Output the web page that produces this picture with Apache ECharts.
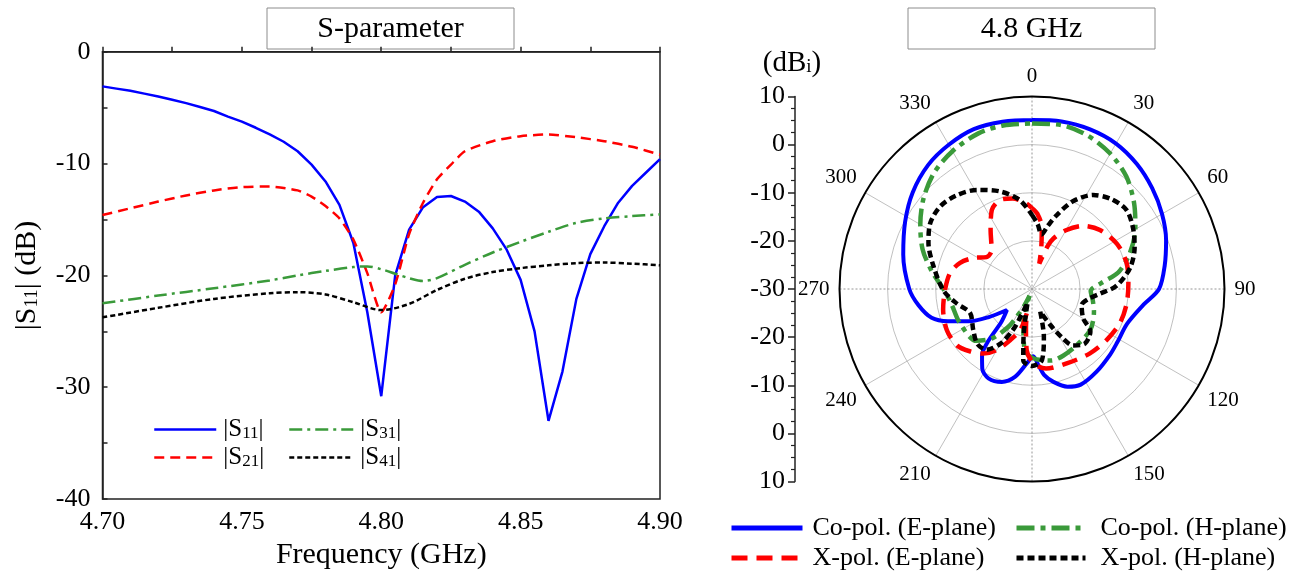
<!DOCTYPE html>
<html>
<head>
<meta charset="utf-8">
<script src="https://cdn.jsdelivr.net/npm/echarts@6/dist/echarts.min.js"></script>
<style>
html,body{margin:0;padding:0;background:#fff;}
#c{width:1306px;height:575px;}
</style>
</head>
<body>
<div id="c"></div>
<script>
// ---------- S-parameter data ----------
const freqS11 = [4.700,4.705,4.710,4.715,4.720,4.725,4.730,4.735,4.740,4.745,4.750,4.755,4.760,4.765,4.770,4.775,4.780,4.785,4.790,4.795,4.800,4.805,4.810,4.815,4.820,4.825,4.830,4.835,4.840,4.845,4.850,4.855,4.860,4.865,4.870,4.875,4.880,4.885,4.890,4.895,4.900];
const s11 = [-3.1,-3.3,-3.5,-3.75,-4.0,-4.3,-4.6,-4.95,-5.3,-5.8,-6.25,-6.8,-7.4,-8.05,-8.9,-10.1,-11.6,-13.7,-17.1,-23.3,-30.8,-20.0,-15.9,-13.9,-13.0,-12.9,-13.4,-14.3,-15.8,-17.7,-20.4,-25.0,-33.0,-28.6,-22.1,-18.1,-15.6,-13.5,-12.0,-10.8,-9.6];
const freqS21 = [4.70,4.71,4.72,4.73,4.74,4.75,4.76,4.77,4.775,4.78,4.785,4.79,4.795,4.80,4.805,4.81,4.815,4.82,4.825,4.83,4.84,4.85,4.86,4.87,4.88,4.89,4.90];
const s21 = [-14.6,-14.0,-13.4,-12.85,-12.4,-12.1,-12.05,-12.4,-12.95,-13.8,-14.9,-16.8,-19.8,-23.3,-20.8,-16.3,-13.5,-11.4,-10.1,-8.9,-8.0,-7.55,-7.4,-7.65,-8.0,-8.5,-9.2];
const freqS31 = [4.70,4.72,4.74,4.76,4.77,4.78,4.79,4.795,4.80,4.805,4.81,4.815,4.82,4.83,4.84,4.85,4.86,4.87,4.88,4.89,4.90];
const s31 = [-22.5,-21.8,-21.15,-20.45,-20.0,-19.6,-19.25,-19.2,-19.45,-19.85,-20.25,-20.5,-20.25,-19.05,-17.95,-17.0,-16.1,-15.3,-14.9,-14.7,-14.55];
const freqS41 = [4.70,4.72,4.74,4.76,4.77,4.78,4.79,4.80,4.81,4.82,4.83,4.84,4.85,4.86,4.87,4.88,4.89,4.90];
const s41 = [-23.75,-22.9,-22.1,-21.6,-21.5,-21.7,-22.4,-23.1,-22.55,-21.3,-20.3,-19.7,-19.35,-19.1,-18.9,-18.85,-18.95,-19.1];
const xTickLabels = ['4.70','4.75','4.80','4.85','4.90'];
const yTickLabels = ['-40','-30','-20','-10','0'];

// ---------- Radiation pattern data (angle deg, gain dBi) ----------
const coEAng = [0,10,20,30,40,50,60,70,80,90,98,110,122,130,142,153,160,167,172,175,179,184,191,198,206,212,217,220,223,230,237,243,249,254,262,270,285,298,309,320,330,340,350,360];
const coEVal = [5.1,5.35,5.3,4.9,3.9,2.6,1.2,-0.35,-2.0,-3.6,-6.6,-8.95,-9.1,-8.8,-8.2,-7.7,-8.4,-10.2,-12.0,-14.0,-16.0,-14.5,-11.4,-9.7,-9.35,-10.5,-12.75,-15.8,-20.7,-23.2,-19.3,-15.2,-11.3,-8.3,-6.15,-4.5,-2.3,-0.15,1.9,3.6,4.6,5.35,5.3,5.1];
const coHAng = [0,10,20,30,40,50,60,70,79,85,92,100,110,125,141,155,165,179,187,194,200,205,209,212,219,227,245,259,270,280,290,300,310,320,330,341,350,360];
const coHVal = [4.4,4.6,3.9,2.5,0.5,-2.3,-5.2,-8.4,-11.7,-15.5,-17.8,-17.2,-16.3,-15.2,-15.1,-14.7,-14.6,-15.6,-17.3,-22.6,-28.5,-26,-23.4,-20.75,-16.8,-14.2,-13.4,-13.0,-11.6,-8.85,-5.8,-3.2,-0.6,1.6,3.05,4.2,4.5,4.4];
const xEAng = [0,4,9,13,16,20,23,30,39,49,62,75,87,99,111,124,138,155,170,179,185,189,192,196,203,210,217,225,233,244,257,269,281,290,298,305,314,325,333,340,348,356,360];
const xEVal = [-13.2,-14.3,-17.0,-21.5,-24.5,-20.5,-18.6,-15.9,-13.1,-11.3,-10.0,-9.6,-9.95,-10.1,-10.4,-11.2,-12.0,-12.95,-13.2,-14.6,-17.3,-22.0,-25.0,-21.1,-18.5,-15.35,-13.2,-11.7,-10.5,-10.35,-11.05,-11.9,-12.65,-14.1,-16.25,-18.45,-18.35,-15.0,-11.6,-10.35,-10.75,-12.15,-13.2];
const xHAng = [0,5,10,14,18.5,25,33,41,50,59,68,78,88,94,100,108,120,126,136,144,148,153,160,166,172,180,187,190,193,198,203,205,210,217,225,235,249,259,269,283,294,303,312,321,331,342,352,360];
const xHVal = [-14.6,-16.5,-18.5,-16.5,-13.8,-9.9,-6.7,-5.15,-4.4,-5.5,-7.0,-9.2,-12.5,-15.9,-18.1,-19.15,-17.7,-15.0,-14.2,-15.5,-17.9,-21.6,-25.0,-19.8,-15.1,-14.0,-15.1,-19.9,-24.0,-27.0,-23.0,-20.6,-16.9,-14.2,-13.9,-15.1,-16.2,-14.1,-11.6,-9.0,-6.45,-4.8,-4.35,-5.0,-6.45,-8.7,-11.3,-14.6];
const angleTickLabels = ['0','30','60','90','120','150','','210','240','270','300','330'];
const radialBarLabels = ['10','0','-10','-20','-30','-20','-10','0','10'];

const SERIF = '"Liberation Serif","Times New Roman",serif';
const BLUE = '#0000ff', RED = '#ff0000', GREEN = '#3a9a3a', BLACK = '#000000';
const GRIDGRAY = '#b0b0b0';

const pair = (xs, ys) => xs.map((x, i) => [x, ys[i]]);
const polarPair = (angs, vals) => angs.map((a, i) => [vals[i], a]);

const subRich = {
  s: { fontSize: 17, fontFamily: SERIF, color: '#000', padding: [9, 0, 0, 0] }
};
const hiddenSymbol = { opacity: 0, borderWidth: 0 };
const sLegend = (name, left, top, iw) => ({
  data: [name], left: left, top: top, itemWidth: iw, itemHeight: 12, itemGap: 0,
  selectedMode: false, itemStyle: hiddenSymbol, lineStyle: { width: 2.5 },
  formatter: n => '|S{s|' + n.slice(1) + '}|',
  textStyle: { fontFamily: SERIF, fontSize: 25, color: '#000', padding: [0, 0, 0, 2], rich: subRich }
});
const pLegend = (name, left, top, iw, pad) => ({
  data: [name], left: left, top: top, itemWidth: iw, itemHeight: 12,
  selectedMode: false, itemStyle: hiddenSymbol, lineStyle: { width: 5 },
  textStyle: { fontFamily: SERIF, fontSize: 26, color: '#000', padding: [0, 0, 0, pad] }
});

const chart = echarts.init(document.getElementById('c'), null, { renderer: 'canvas' });
chart.setOption({
  backgroundColor: '#ffffff',
  animation: false,
  grid: [
    { left: 102.5, top: 51.7, width: 557.5, height: 449, show: true, borderColor: '#222', borderWidth: 1.5, backgroundColor: 'transparent' },
    { left: 795, top: 96.5, width: 1, height: 385 }
  ],
  xAxis: [
    {
      gridIndex: 0, type: 'value', min: 4.70, max: 4.90, interval: 0.05,
      name: 'Frequency (GHz)', nameLocation: 'middle', nameGap: 38,
      nameTextStyle: { fontFamily: SERIF, fontSize: 30, color: '#000' },
      axisLine: { lineStyle: { color: '#222', width: 1.5 } },
      axisTick: { inside: true, length: 5, lineStyle: { color: '#222', width: 1.5 } },
      minorTick: { show: true, splitNumber: 2, length: 5, lineStyle: { color: '#222', width: 1.5 } },
      splitLine: { show: false },
      axisLabel: { fontFamily: SERIF, fontSize: 26, color: '#000', margin: 10,
        formatter: v => xTickLabels[Math.round((v - 4.70) / 0.05)] }
    },
    { gridIndex: 1, type: 'value', show: false, min: 0, max: 1 }
  ],
  yAxis: [
    {
      gridIndex: 0, type: 'value', min: -40, max: 0, interval: 10,
      name: '|S{s|11}| (dB)', nameLocation: 'middle', nameGap: 60, nameRotate: 90,
      nameTextStyle: { fontFamily: SERIF, fontSize: 30, color: '#000', rich: { s: { fontSize: 19, fontFamily: SERIF, color: '#000', padding: [10, 0, 0, 0] } } },
      axisLine: { lineStyle: { color: '#222', width: 1.5 } },
      axisTick: { inside: true, length: 5, lineStyle: { color: '#222', width: 1.5 } },
      minorTick: { show: true, splitNumber: 2, length: 5, lineStyle: { color: '#222', width: 1.5 } },
      splitLine: { show: false },
      axisLabel: { fontFamily: SERIF, fontSize: 26, color: '#000', margin: 12,
        formatter: v => yTickLabels[Math.round((v + 40) / 10)] }
    },
    {
      gridIndex: 1, type: 'value', min: -40, max: 40, interval: 10,
      axisLine: { show: true, lineStyle: { color: '#222', width: 1.5 } },
      axisTick: { show: true, inside: false, length: 7, lineStyle: { color: '#222', width: 1.5 } },
      minorTick: { show: true, splitNumber: 4, length: 4, lineStyle: { color: '#222', width: 1.2 } },
      splitLine: { show: false },
      axisLabel: { fontFamily: SERIF, fontSize: 26, color: '#000', margin: 10,
        formatter: v => radialBarLabels[Math.round((v + 40) / 10)] }
    }
  ],
  polar: [
    { center: [1032, 289], radius: 192.5 },
    { center: [1032, 289], radius: 192.5 }
  ],
  angleAxis: [
    {
      polarIndex: 0, type: 'value', min: 0, max: 360, interval: 30, startAngle: 90, clockwise: true,
      axisLine: { lineStyle: { color: '#000', width: 2 } },
      axisTick: { show: false },
      splitLine: { show: true, lineStyle: { color: ['transparent', GRIDGRAY, GRIDGRAY], width: 0.8 } },
      axisLabel: { fontFamily: SERIF, fontSize: 21, color: '#000', margin: 10,
        formatter: v => (v >= 360 ? '' : angleTickLabels[Math.round(v / 30)]) }
    },
    {
      polarIndex: 1, type: 'value', min: 0, max: 360, interval: 90, startAngle: 90, clockwise: true,
      axisLine: { show: false }, axisTick: { show: false }, axisLabel: { show: false },
      splitLine: { show: true, lineStyle: { color: '#8a8a8a', width: 0.9, type: [2, 2] } }
    }
  ],
  radiusAxis: [
    {
      polarIndex: 0, type: 'value', min: -30, max: 10, interval: 10,
      axisLine: { show: false }, axisTick: { show: false }, axisLabel: { show: false },
      splitLine: { show: true, lineStyle: { color: GRIDGRAY, width: 0.8 } }
    },
    {
      polarIndex: 1, type: 'value', min: -30, max: 10, interval: 10,
      axisLine: { show: false }, axisTick: { show: false }, axisLabel: { show: false },
      splitLine: { show: false }
    }
  ],
  legend: [
    sLegend('S11', 148, 412, 62),
    sLegend('S21', 148, 440, 62),
    sLegend('S31', 283, 412, 64),
    sLegend('S41', 283, 440, 64),
    pLegend('Co-pol. (E-plane)', 724, 510, 71, 5),
    pLegend('X-pol. (E-plane)', 724, 540, 71, 5),
    pLegend('Co-pol. (H-plane)', 1009, 510, 69, 10),
    pLegend('X-pol. (H-plane)', 1009, 540, 69, 10)
  ],
  graphic: [
    { type: 'rect', shape: { x: 267, y: 8, width: 247, height: 41 }, style: { fill: '#fff', stroke: '#8c8c8c', lineWidth: 1 } },
    { type: 'text', x: 390.5, y: 29, style: { text: 'S-parameter', fontFamily: SERIF, fontSize: 30, fill: '#000', align: 'center', verticalAlign: 'middle', textAlign: 'center', textVerticalAlign: 'middle' } },
    { type: 'rect', shape: { x: 908, y: 8, width: 247, height: 41 }, style: { fill: '#fff', stroke: '#8c8c8c', lineWidth: 1 } },
    { type: 'text', x: 1031.5, y: 29, style: { text: '4.8 GHz', fontFamily: SERIF, fontSize: 30, fill: '#000', align: 'center', verticalAlign: 'middle', textAlign: 'center', textVerticalAlign: 'middle' } },
    { type: 'text', x: 792, y: 63, style: { text: '(dB{s|i})', fontFamily: SERIF, fontSize: 29, fill: '#000', align: 'center', verticalAlign: 'middle', textAlign: 'center', textVerticalAlign: 'middle',
      rich: { s: { fontSize: 19, fontFamily: SERIF, fill: '#000', padding: [9, 0, 0, 0] } } } }
  ],
  series: [
    { name: 'S11', type: 'line', xAxisIndex: 0, yAxisIndex: 0, data: pair(freqS11, s11), showSymbol: false, symbol: 'none',
      lineStyle: { color: BLUE, width: 2.5 }, itemStyle: { color: BLUE } },
    { name: 'S21', type: 'line', xAxisIndex: 0, yAxisIndex: 0, data: pair(freqS21, s21), showSymbol: false, symbol: 'none', smooth: 0.2,
      lineStyle: { color: RED, width: 2.5, type: [10, 6] }, itemStyle: { color: RED } },
    { name: 'S31', type: 'line', xAxisIndex: 0, yAxisIndex: 0, data: pair(freqS31, s31), showSymbol: false, symbol: 'none', smooth: 0.3,
      lineStyle: { color: GREEN, width: 2.5, type: [13, 5, 3, 5] }, itemStyle: { color: GREEN } },
    { name: 'S41', type: 'line', xAxisIndex: 0, yAxisIndex: 0, data: pair(freqS41, s41), showSymbol: false, symbol: 'none', smooth: 0.3,
      lineStyle: { color: BLACK, width: 2.5, type: [5, 3] }, itemStyle: { color: BLACK } },
    { name: 'Co-pol. (E-plane)', type: 'line', coordinateSystem: 'polar', polarIndex: 0, data: polarPair(coEAng, coEVal), showSymbol: false, symbol: 'none', smooth: 0.3, z: 5,
      lineStyle: { color: BLUE, width: 4 }, itemStyle: { color: BLUE } },
    { name: 'Co-pol. (H-plane)', type: 'line', coordinateSystem: 'polar', polarIndex: 0, data: polarPair(coHAng, coHVal), showSymbol: false, symbol: 'none', smooth: 0.3, z: 5,
      lineStyle: { color: GREEN, width: 4.5, type: [18, 6, 5, 6] }, itemStyle: { color: GREEN } },
    { name: 'X-pol. (E-plane)', type: 'line', coordinateSystem: 'polar', polarIndex: 0, data: polarPair(xEAng, xEVal), showSymbol: false, symbol: 'none', smooth: 0.3, z: 5,
      lineStyle: { color: RED, width: 4.5, type: [16, 9] }, itemStyle: { color: RED } },
    { name: 'X-pol. (H-plane)', type: 'line', coordinateSystem: 'polar', polarIndex: 0, data: polarPair(xHAng, xHVal), showSymbol: false, symbol: 'none', smooth: 0.3, z: 5,
      lineStyle: { color: BLACK, width: 4.5, type: [7, 4] }, itemStyle: { color: BLACK } }
  ]
});
</script>
</body>
</html>
